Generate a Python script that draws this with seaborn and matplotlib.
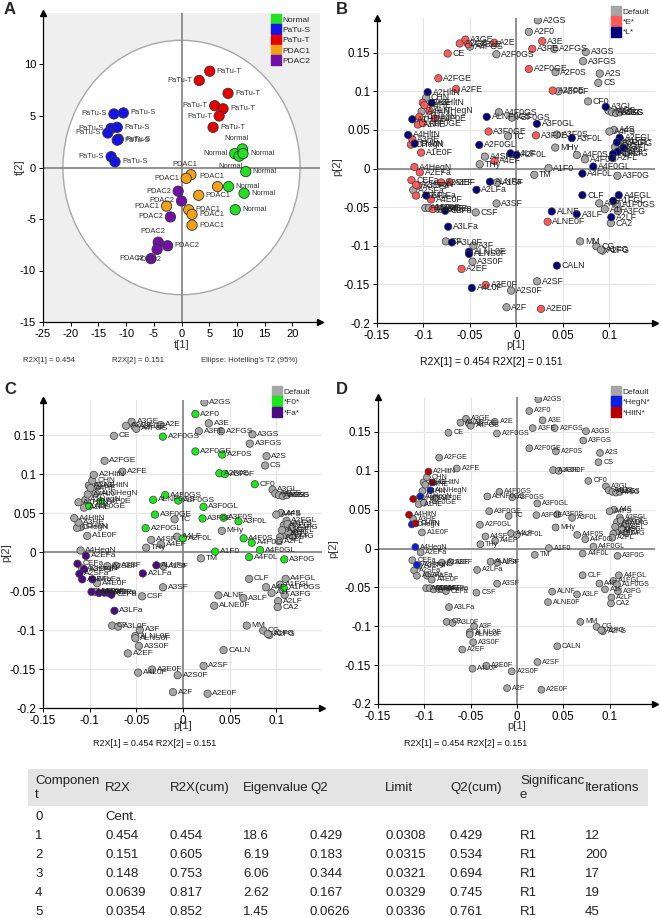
import numpy as np
import pandas as pd
import matplotlib
matplotlib.use("Agg")
import matplotlib.pyplot as plt
from matplotlib.patches import Ellipse, Rectangle
from matplotlib.lines import Line2D
import seaborn as sns

# ── Data ──────────────────────────────────────────────────────────────────────
# Panel A: PCA scores
a_group = ["PaTu-T"] * 7 + ["PaTu-S"] * 9 + ["Normal"] * 8 + ["PDAC1"] * 8 + ["PDAC2"] * 7
a_t1 = [5.1, 3.2, 8.4, 6.0, 7.5, 6.8, 5.7,
        -12.2, -10.5, -12.7, -11.6, -13.3, -11.4, -11.6, -12.7, -12.0,
        11.0, 9.6, 10.4, 11.1, 11.6, 8.5, 11.3, 9.7,
        1.7, 0.85, 6.5, 3.1, -2.7, 1.3, 1.9, 1.9,
        -0.6, 0.0, -2.0, -4.2, -2.5, -4.4, -5.5]
a_t2 = [9.35, 8.45, 7.2, 6.0, 5.7, 5.0, 3.9,
        5.2, 5.3, 3.8, 3.9, 3.35, 2.75, 2.65, 1.05, 0.55,
        1.8, 1.35, 1.1, 1.35, -0.4, -1.85, -2.5, -4.1,
        -0.7, -1.05, -1.85, -2.7, -3.75, -4.1, -4.55, -5.6,
        -2.3, -3.25, -4.8, -7.25, -7.6, -7.95, -8.85]
a_side = ["r", "l", "r", "l", "r", "l", "r",
          "l", "r", "l", "r", "l", "r", "r", "l", "r",
          "u", "l", "d", "r", "r", "r", "r", "r",
          "u", "l", "u", "r", "l", "r", "r", "r",
          "l", "l", "l", "u", "r", "d", "l"]
a_order = ["Normal", "PaTu-S", "PaTu-T", "PDAC1", "PDAC2"]
a_colors = ["#22e022", "#1414e8", "#e80000", "#f0a01a", "#7010a8"]

# Panels B-D: PCA loadings
load_names = [
    "A2GS", "A2F0", "A3E", "A3FE", "A2FGS", "A3GS", "A3FGS", "A2S", "CS", "A3GE",
    "A2GE", "A3FGE", "A2E", "A4FGS", "CE", "A2F0GS", "A2F0GE", "A2F0S", "A2FGE", "A2FE",
    "A2F0E", "A3F0F", "CF0", "A3GL", "A4GS", "A3SG", "A4SG", "CGS", "A3F0GL", "A4F0GS",
    "ALNF0GS", "A3F0GS", "A3F0GE", "TC", "A3F0E", "A3F0S", "A3F0L", "A2F0GL", "MHy", "A4SF",
    "A4LF", "A2F0L", "A4EF", "THy", "A4F0S", "A4F0G", "A4F0GL", "A1F0", "A4F0L", "A3F0G",
    "TM", "CLF", "A4FGL", "A1FGL", "A4F", "A1F", "A1F0GS", "A3FG", "A2LF", "CA2",
    "ALNF", "A3LF", "ALNE0F", "MM", "CG", "A2FG", "A1FG", "CALN", "A2SF", "A2S0F",
    "A2F", "A2E0F", "A3E0F", "A4L0F", "A2EF", "A3S0F", "ALNL0F", "ALNS0F", "A3F", "CF",
    "A3L0F", "A3LFa", "CSF", "A3SF", "ALNFa", "A1SF", "A2LFa", "A2SEF", "A3EF", "CEFa",
    "A3EFa", "A2HegN", "A2SFa", "A1EFa", "A4LFa", "A4E0F", "A1SFa", "A4S0F", "A4EFa", "A3SFa",
    "A4SFa", "CLFa", "A2EFa", "A4HegN", "A1E0F", "CHltN", "CHegN", "A3HE", "A4HltN", "A1HE",
    "A1F0GE", "A4F0E", "A1HltN", "A1HegN", "ALNHegN", "A4HN", "A3HltN", "A2HE", "A4HE", "CHN",
    "A2HltN", "A2FGL", "A3FGL", "A3FL", "A4FL", "A1FL", "A2FL", "A4S", "A4FS", "A1FS",
    "A4FG", "A3G", "A4G", "A1G",
]
load_p1 = [
    0.023, 0.0133, 0.0277, 0.017, 0.0407, 0.0745, 0.0716, 0.0896, 0.088, -0.055,
    -0.061, -0.052, -0.024, -0.05, -0.074, -0.0216, 0.0133, 0.042, -0.084, -0.065,
    0.039, 0.045, 0.077, 0.096, 0.099, 0.103, 0.107, 0.111, 0.022, -0.019,
    -0.032, -0.005, -0.030, -0.009, 0.021, 0.0435, 0.0595, -0.040, 0.0417, -0.034,
    -0.0064, 0.0, -0.0235, -0.0395, 0.065, 0.0737, 0.0826, 0.0345, 0.0709, 0.1086,
    0.0192, 0.0709, 0.110, 0.104, 0.089, 0.095, 0.108, 0.109, 0.102, 0.1015,
    0.038, 0.0648, 0.0335, 0.0684, 0.086, 0.0926, 0.091, 0.0435, 0.0221, -0.0057,
    -0.0107, 0.0264, -0.0331, -0.048, -0.059, -0.0473, -0.051, -0.051, -0.0463, -0.0759,
    -0.0694, -0.0734, -0.0438, -0.0214, -0.0285, -0.021, -0.043, -0.081, -0.072, -0.113,
    -0.106, -0.108, -0.111, -0.108, -0.097, -0.092, -0.098, -0.094, -0.090, -0.0844,
    -0.081, -0.0766, -0.104, -0.1097, -0.1026, -0.1095, -0.1135, -0.112, -0.1165, -0.106,
    -0.1005, -0.088, -0.112, -0.1045, -0.0935, -0.102, -0.0912, -0.1008, -0.099, -0.0972,
    -0.0955, 0.111, 0.108, 0.115, 0.109, 0.104, 0.103, 0.105, 0.100, 0.112,
    0.117, 0.113, 0.118, 0.106,
]
load_p2 = [
    0.192, 0.177, 0.165, 0.155, 0.155, 0.151, 0.139, 0.123, 0.111, 0.167,
    0.162, 0.161, 0.163, 0.158, 0.149, 0.148, 0.129, 0.125, 0.117, 0.103,
    0.101, 0.100, 0.087, 0.080, 0.075, 0.073, 0.072, 0.073, 0.058, 0.073,
    0.067, 0.066, 0.048, 0.042, 0.043, 0.044, 0.0395, 0.0306, 0.0272, 0.0155,
    0.0197, 0.0176, 0.0099, 0.0056, 0.0176, 0.012, 0.0026, 0.0006, -0.0065, -0.0094,
    -0.0081, -0.0344, -0.0344, -0.0417, -0.045, -0.0525, -0.046, -0.055, -0.063, -0.0706,
    -0.0555, -0.059, -0.0689, -0.0943, -0.1007, -0.1063, -0.105, -0.1257, -0.146, -0.158,
    -0.1796, -0.1817, -0.1507, -0.1546, -0.130, -0.1205, -0.1077, -0.1106, -0.0999, -0.0943,
    -0.0956, -0.0753, -0.0568, -0.0452, -0.017, -0.018, -0.0275, -0.018, -0.0175, -0.015,
    -0.022, -0.021, -0.028, -0.035, -0.035, -0.040, -0.051, -0.051, -0.0525, -0.052,
    -0.052, -0.0547, -0.005, 0.002, 0.0207, 0.0323, 0.031, 0.038, 0.0435, 0.057,
    0.059, 0.065, 0.0638, 0.067, 0.075, 0.074, 0.085, 0.0853, 0.082, 0.0917,
    0.099, 0.040, 0.034, 0.027, 0.022, 0.019, 0.014, 0.050, 0.048, 0.036,
    0.032, 0.025, 0.020, 0.028,
]

# Summary table
tbl_header = ["Componen\nt", "R2X", "R2X(cum)", "Eigenvalue", "Q2", "Limit",
              "Q2(cum)", "Significanc\ne", "Iterations"]
tbl_rows = [
    ["0", "Cent.", "", "", "", "", "", "", ""],
    ["1", "0.454", "0.454", "18.6", "0.429", "0.0308", "0.429", "R1", "12"],
    ["2", "0.151", "0.605", "6.19", "0.183", "0.0315", "0.534", "R1", "200"],
    ["3", "0.148", "0.753", "6.06", "0.344", "0.0321", "0.694", "R1", "17"],
    ["4", "0.0639", "0.817", "2.62", "0.167", "0.0329", "0.745", "R1", "19"],
    ["5", "0.0354", "0.852", "1.45", "0.0626", "0.0336", "0.761", "R1", "45"],
]

# ── Setup ─────────────────────────────────────────────────────────────────────
sns.set_theme(style="white")
plt.rcParams["font.family"] = ["Liberation Sans", "DejaVu Sans"]

W, H = 660, 918
fig = plt.figure(figsize=(6.6, 9.18), dpi=100)
TXT = "#333333"


def fx(x):
    return x / W


def fy(y):
    return 1 - y / H


def px_axes(l, t, r, b):
    return fig.add_axes([l / W, 1 - b / H, (r - l) / W, (b - t) / H])


def base_style(ax, xlim, ylim, xt, xtl, yt, ytl, fs):
    ax.set_xlim(xlim)
    ax.set_ylim(ylim)
    for s in ["top", "right"]:
        ax.spines[s].set_visible(False)
    for s in ["left", "bottom"]:
        ax.spines[s].set_color("black")
        ax.spines[s].set_linewidth(0.9)
    ax.plot(0, 1, "^", color="black", ms=4, transform=ax.transAxes, clip_on=False)
    ax.plot(1, 0, ">", color="black", ms=4, transform=ax.transAxes, clip_on=False)
    ax.axhline(0, color="#8a8a8a", lw=1.3, zorder=1)
    ax.axvline(0, color="#8a8a8a", lw=1.3, zorder=1)
    ax.set_xticks(xt)
    ax.set_xticklabels(xtl)
    ax.set_yticks(yt)
    ax.set_yticklabels(ytl)
    ax.tick_params(bottom=True, left=True, direction="out", length=3, width=0.7,
                   labelsize=fs, colors="black", pad=2)
    ax.set_xlabel("")
    ax.set_ylabel("")


def square_legend(labels, colors, x, y, fs):
    handles = [Line2D([], [], marker="s", ls="", color=c, ms=7) for c in colors]
    fig.legend(handles, labels, loc="upper left", bbox_to_anchor=(fx(x), fy(y)),
               frameon=False, fontsize=fs, handlelength=0.8, handletextpad=0.35,
               labelspacing=0.3, borderpad=0, borderaxespad=0)


# ── Panel A: scores ───────────────────────────────────────────────────────────
axA = px_axes(43, 13, 320, 322)
axA.set_facecolor("#efefef")
axA.add_patch(Ellipse((0, 0), 2 * 21.4, 2 * 12.35, facecolor="white",
                      edgecolor="#a8a8a8", lw=1, zorder=0.5))
dfA = pd.DataFrame({"t1": a_t1, "t2": a_t2, "group": a_group, "side": a_side})
sns.scatterplot(data=dfA, x="t1", y="t2", hue="group", hue_order=a_order,
                palette=a_colors, s=55, edgecolor="#333333", linewidth=0.6,
                legend=False, ax=axA, zorder=3)
offs = {"r": ((5, 0), "left", "center"), "l": ((-5, 0), "right", "center"),
        "u": ((-4, 5), "center", "bottom"), "d": ((-6, -5), "center", "top")}
for _, r in dfA.iterrows():
    off, ha, va = offs[r["side"]]
    axA.annotate(r["group"], (r["t1"], r["t2"]), xytext=off, textcoords="offset points",
                 ha=ha, va=va, fontsize=5.4, color=TXT, zorder=4)
base_style(axA, (-25, 25), (-15, 15), range(-25, 21, 5), [str(v) for v in range(-25, 21, 5)],
           range(-15, 11, 5), [str(v) for v in range(-15, 11, 5)], 8)
square_legend(a_order, a_colors, 273, 16, 6)

fig.text(fx(182), fy(345), "t[1]", ha="center", va="center", fontsize=8, color=TXT)
fig.text(fx(20), fy(167), "t[2]", ha="center", va="center", rotation=90, fontsize=8, color=TXT)
fig.text(fx(23), fy(360), "R2X[1] = 0.454", va="center", fontsize=5.6, color=TXT)
fig.text(fx(112), fy(360), "R2X[2] = 0.151", va="center", fontsize=5.6, color=TXT)
fig.text(fx(201), fy(360), "Ellipse: Hotelling's T2 (95%)", va="center", fontsize=5.6, color=TXT)

# ── Panels B–D: loadings ──────────────────────────────────────────────────────
dfL = pd.DataFrame({"p1": load_p1, "p2": load_p2, "name": load_names})


def grp_b(n):
    low = n.lower()
    return "*E*" if "e" in low else ("*L*" if "l" in low else "Default")


def grp_c(n):
    return "*F0*" if "F0" in n else ("*Fa*" if "Fa" in n else "Default")


def grp_d(n):
    return "*HegN*" if "HegN" in n else ("*HltN*" if "HltN" in n else "Default")


GRAY = "#a6a6a6"
panels = [
    ("B", (377, 18, 655, 323), grp_b, ["Default", "*E*", "*L*"], [GRAY, "#ff5a5a", "#00007a"],
     (613, 8), 6.3, 28, (516, 345), (337, 167), (491, 362), 7.5),
    ("C", (43, 400, 322, 708), grp_c, ["Default", "*F0*", "*Fa*"], [GRAY, "#1ee61e", "#4b0a7d"],
     (274, 388), 6.0, 28, (183, 726), (6, 553), (155, 744), 6.5),
    ("D", (378, 397, 655, 704), grp_d, ["Default", "*HegN*", "*HltN*"], [GRAY, "#0a1ee6", "#b40000"],
     (613, 388), 5.2, 24, (517, 726), (333, 549), (466, 744), 6.5),
]
lticks = [-0.15, -0.1, -0.05, 0, 0.05, 0.1]
lticklabels = ["-0.15", "-0.1", "-0.05", "0", "0.05", "0.1"]
yticks = [-0.2, -0.15, -0.1, -0.05, 0, 0.05, 0.1, 0.15]
yticklabels = ["-0.2", "-0.15", "-0.1", "-0.05", "0", "0.05", "0.1", "0.15"]

for key, box, fn, order, cols, leg_xy, lfs, ms, xl_xy, yl_xy, r2_xy, r2fs in panels:
    ax = px_axes(*box)
    d = dfL.copy()
    d["grp"] = d["name"].map(fn)
    d["rank"] = d["grp"].map({g: i for i, g in enumerate(order)})
    d = d.sort_values("rank", kind="stable")
    sns.scatterplot(data=d, x="p1", y="p2", hue="grp", hue_order=order, palette=cols,
                    s=ms, edgecolor="#3c3c3c", linewidth=0.5, legend=False, ax=ax, zorder=3)
    for _, r in d.iterrows():
        ax.annotate(r["name"], (r["p1"], r["p2"]), xytext=(3.5, 0), textcoords="offset points",
                    va="center", fontsize=lfs, color="#222222", zorder=4)
    base_style(ax, (-0.15, 0.149), (-0.2, 0.195), lticks, lticklabels, yticks, yticklabels, 8.3)
    ax.grid(True, color="#e6e6e6", lw=0.8, zorder=0)
    ax.set_axisbelow(True)
    square_legend(order, cols, *leg_xy, 6)
    fig.text(fx(xl_xy[0]), fy(xl_xy[1]), "p[1]", ha="center", va="center", fontsize=8, color=TXT)
    fig.text(fx(yl_xy[0]), fy(yl_xy[1]), "p[2]", ha="center", va="center", rotation=90,
             fontsize=8, color=TXT)
    fig.text(fx(r2_xy[0]), fy(r2_xy[1]), "R2X[1] = 0.454 R2X[2] = 0.151", ha="center",
             va="center", fontsize=r2fs, color="#111111")

# panel letters
for lab, x, y in [("A", 10, 9), ("B", 342, 9), ("C", 10, 390), ("D", 342, 389)]:
    fig.text(fx(x), fy(y), lab, ha="center", va="center", fontsize=12, fontweight="bold")

# ── Table ─────────────────────────────────────────────────────────────────────
col_x = [35, 105, 170, 243, 310, 385, 450, 520, 585]
fig.patches.append(Rectangle((fx(28), fy(806)), fx(648) - fx(28), fy(769) - fy(806),
                             transform=fig.transFigure, facecolor="#e4e4e4",
                             edgecolor="none", zorder=0))
for x, h in zip(col_x, tbl_header):
    fig.text(fx(x), fy(788), h, va="center", fontsize=9.5, color="#222222", linespacing=1.15)
for i, row in enumerate(tbl_rows):
    for x, v in zip(col_x, row):
        fig.text(fx(x), fy(817 + 19 * i), v, va="center", fontsize=9.5, color="#222222")

fig.savefig("out.png", dpi=100)
